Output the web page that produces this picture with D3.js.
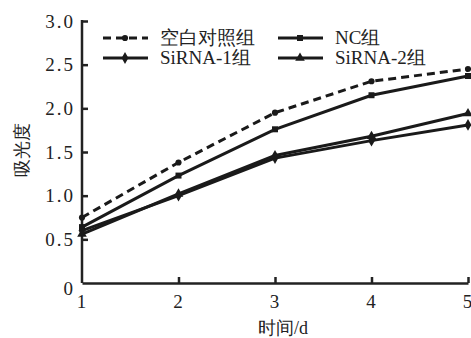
<!DOCTYPE html>
<html lang="zh">
<head>
<meta charset="utf-8">
<title>吸光度</title>
<script src="https://d3js.org/d3.v7.min.js"></script>
<style>
  body { margin: 0; background: #fff; }
  svg text { font-family: "Liberation Serif", "DejaVu Serif", serif; }
</style>
</head>
<body>
<script>
// Data
var days = [1, 2, 3, 4, 5];
var names = ["空白对照组", "NC组", "SiRNA-1组", "SiRNA-2组"];
var blank = [0.75, 1.38, 1.95, 2.31, 2.45];
var nc = [0.64, 1.23, 1.76, 2.15, 2.37];
var si1 = [0.60, 1.00, 1.43, 1.63, 1.81];
var si2 = [0.56, 1.02, 1.46, 1.68, 1.94];
var yTicks = [0, 0.5, 1.0, 1.5, 2.0, 2.5, 3.0];

var w = 471, h = 338;
var x = d3.scaleLinear().domain([1, 5]).range([82, 468]);
var y = d3.scaleLinear().domain([0, 3]).range([283, 21]);

var svg = d3.select("body").append("svg").attr("width", w).attr("height", h);

var series = [
  {name: names[0], vals: blank, dash: "8,5", sym: d3.symbolCircle, size: 30},
  {name: names[1], vals: nc, dash: null, sym: d3.symbolSquare, size: 36},
  {name: names[2], vals: si1, dash: null, sym: d3.symbolDiamond, size: 40},
  {name: names[3], vals: si2, dash: null, sym: d3.symbolTriangle, size: 40}
];

// axes
var xAxis = svg.append("g").attr("transform", "translate(0," + y(0) + ")")
  .call(d3.axisBottom(x).tickValues(days).tickSizeInner(-6).tickSizeOuter(0).tickPadding(12).tickFormat(d3.format("d")));
var yAxis = svg.append("g").attr("transform", "translate(" + x(1) + ",0)")
  .call(d3.axisLeft(y).tickValues(yTicks).tickSizeInner(-6).tickSizeOuter(0).tickPadding(7)
    .tickFormat(function(d) { return d === 0 ? "0" : d3.format(".1f")(d); }));
[xAxis, yAxis].forEach(function(a) {
  a.attr("font-family", "Liberation Serif").attr("font-size", 19);
  a.select(".domain").attr("stroke", "#222").attr("stroke-width", 2.5);
  a.selectAll(".tick line").attr("stroke", "#222").attr("stroke-width", 2.5);
  a.selectAll("text").style("letter-spacing", "2px").attr("fill", "#222");
});
yAxis.select(".domain").attr("d", "M0," + y(0) + "V" + (y(3) - 1));
yAxis.selectAll(".tick").filter(function(d) { return d === 0; })
  .select("text").attr("dy", "0.6em");
// no tick marks where the axes meet
yAxis.selectAll(".tick").filter(function(d) { return d === 0; }).select("line").remove();
xAxis.selectAll(".tick").filter(function(d) { return d === 1; }).select("line").remove();

// lines
var line = d3.line().x(function(d, i) { return x(days[i]); }).y(function(d) { return y(d); });
series.forEach(function(s) {
  svg.append("path").datum(s.vals)
    .attr("d", line).attr("fill", "none").attr("stroke", "#1a1a1a")
    .attr("stroke-width", 3).attr("stroke-dasharray", s.dash);
  svg.selectAll(null).data(s.vals).enter().append("path")
    .attr("transform", function(d, i) { return "translate(" + x(days[i]) + "," + y(d) + ")"; })
    .attr("d", d3.symbol().type(s.sym).size(s.size)).attr("fill", "#1a1a1a");
});

// legend
var legPos = [[103, 38], [278, 38], [103, 58], [278, 58]];
series.forEach(function(s, i) {
  var g = svg.append("g").attr("transform", "translate(" + legPos[i][0] + "," + legPos[i][1] + ")");
  g.append("line").attr("x1", 0).attr("x2", 45).attr("stroke", "#1a1a1a")
    .attr("stroke-width", 3).attr("stroke-dasharray", s.dash);
  g.append("path").attr("transform", "translate(22,0)")
    .attr("d", d3.symbol().type(s.sym).size(s.size)).attr("fill", "#1a1a1a");
  g.append("text").attr("x", 57).attr("y", 6)
    .attr("font-size", 19).attr("fill", "#222").text(s.name);
});

// axis titles
svg.append("text").attr("x", 283).attr("y", 334).attr("text-anchor", "middle")
  .attr("font-size", 18).attr("fill", "#222").text("时间/d");
svg.append("text").attr("transform", "translate(28,150) rotate(-90)").attr("text-anchor", "middle")
  .attr("font-size", 18).attr("fill", "#222").text("吸光度");
</script>
</body>
</html>
